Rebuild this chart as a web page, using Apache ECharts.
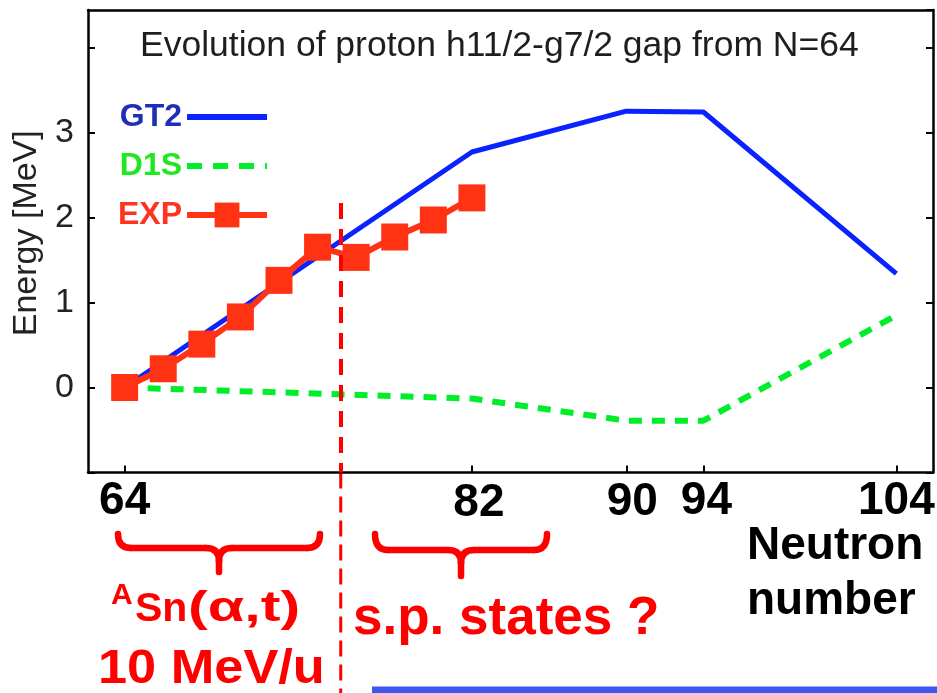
<!DOCTYPE html>
<html><head><meta charset="utf-8">
<script src="https://cdn.jsdelivr.net/npm/echarts@6/dist/echarts.min.js"></script>
<style>html,body{margin:0;padding:0;background:#fff}#c{width:937px;height:693px}</style>
</head><body><div id="c"></div>
<script>
// ---- data ----
const titleText = 'Evolution of proton h11/2-g7/2 gap from N=64';
const xTickValues = [64, 82, 90, 94, 104];
const yLabelValues = [0, 1, 2, 3];
const gt2N = [64, 82, 90, 94, 104];
const gt2E = [0, 2.77, 3.25, 3.24, 1.34];
const d1sN = [64, 82, 90, 94, 104];
const d1sE = [0, -0.13, -0.39, -0.39, 0.85];
const expN = [64, 66, 68, 70, 72, 74, 76, 78, 80, 82];
const expE = [0, 0.22, 0.51, 0.83, 1.26, 1.65, 1.53, 1.77, 1.97, 2.23];
const dividerN = 75.2;
const dividerTopE = 2.17;

const FF = '"Liberation Sans", Arial, Helvetica, sans-serif';
const zip = (a, b) => a.map((v, i) => [v, b[i]]);

const chart = echarts.init(document.getElementById('c'), null, {renderer: 'canvas'});
const axisLine = {show: true, onZero: false, lineStyle: {color: '#000', width: 2.5}};
const xLabelShift = {82: 's82', 90: 's90', 94: 's94'};
const lblBase = {fontSize: 46, fontWeight: 'bold', fontFamily: FF, color: '#000'};

chart.setOption({
  animation: false,
  backgroundColor: '#fff',
  title: {
    text: titleText, left: 140, top: 28, padding: 0,
    textStyle: {fontSize: 35.5, fontWeight: 'normal', fontFamily: FF, color: '#1e1e1e'}
  },
  grid: {left: 88, right: 4, top: 10, bottom: 220.5, containLabel: false, outerBoundsMode: 'none'},
  legend: {
    orient: 'vertical', left: 118, top: 101, align: 'right', padding: 0,
    itemGap: 17, itemWidth: 80, itemHeight: 31, selectedMode: false,
    lineStyle: {width: 6},
    textStyle: {fontSize: 32, fontWeight: 'bold', fontFamily: FF, lineHeight: 32},
    data: [
      {name: 'GT2', textStyle: {color: '#1f2fb5'}, itemStyle: {opacity: 0}},
      {name: 'D1S', textStyle: {color: '#1fe81f'}, itemStyle: {opacity: 0}, lineStyle: {width: 6, type: [15, 11]}},
      {name: 'EXP', textStyle: {color: '#ff3322'}}
    ]
  },
  xAxis: [{
    type: 'value', min: 62.1, max: 105.9, position: 'bottom',
    axisLine: axisLine,
    axisTick: {show: true, inside: true, length: 7, customValues: xTickValues, lineStyle: {color: '#000', width: 2}},
    axisLabel: {
      customValues: xTickValues, margin: 6, ...lblBase,
      formatter: v => xLabelShift[v] ? '{' + xLabelShift[v] + '|' + v + '}' : String(v),
      rich: {
        s82: {...lblBase, padding: [2, 0, 0, 14]},
        s90: {...lblBase, padding: [1, 0, 0, 12]},
        s94: {...lblBase, padding: [0, 0, 0, 6]}
      }
    },
    splitLine: {show: false}
  }, {
    type: 'value', min: 62.1, max: 105.9, position: 'top',
    axisLine: axisLine, axisTick: {show: false}, axisLabel: {show: false}, splitLine: {show: false}
  }],
  yAxis: [{
    type: 'value', min: -1, max: 4.44, interval: 1, position: 'left',
    axisLine: axisLine,
    axisTick: {show: true, inside: true, length: 7, lineStyle: {color: '#000', width: 2}},
    axisLabel: {margin: 14, fontSize: 34, fontFamily: FF, color: '#222',
      formatter: v => yLabelValues.includes(v) ? String(v) : '', showMaxLabel: false},
    splitLine: {show: false},
    name: 'Energy [MeV]', nameLocation: 'middle', nameGap: 44,
    nameTextStyle: {fontSize: 34, fontFamily: FF, color: '#222', padding: [0, 0, 0, 16]}
  }, {
    type: 'value', min: -1, max: 4.44, interval: 1, position: 'right',
    axisLine: axisLine,
    axisTick: {show: true, inside: true, length: 7, lineStyle: {color: '#000', width: 2}},
    axisLabel: {show: false}, splitLine: {show: false}
  }],
  series: [
    {
      name: 'GT2', type: 'line', data: zip(gt2N, gt2E), symbol: 'none', showSymbol: false,
      lineStyle: {color: '#0a22ff', width: 5}, itemStyle: {color: '#0a22ff'}, z: 2, silent: true
    },
    {
      name: 'D1S', type: 'line', data: zip(d1sN, d1sE), symbol: 'none', showSymbol: false,
      lineStyle: {color: '#00ee2a', width: 6, type: [13, 10]}, itemStyle: {color: '#00ee2a'}, z: 2, silent: true
    },
    {
      name: 'EXP', type: 'line', data: zip(expN, expE), symbol: 'rect', symbolSize: 27,
      lineStyle: {color: '#ff3314', width: 6}, itemStyle: {color: '#ff3314'}, z: 3, silent: true,
      markLine: {
        silent: true, symbol: 'none', label: {show: false},
        lineStyle: {color: '#ff0000', width: 4, type: [16, 10]},
        data: [[{coord: [dividerN, dividerTopE]}, {coord: [dividerN, -1]}]]
      }
    }
  ]
});

// annotations below the plot
const base = chart.convertToPixel({xAxisIndex: 0, yAxisIndex: 0}, [dividerN, -1]);
const RED = '#ff0000';
function brace(x1, x2, top, h, tip, r) {
  const c = (x1 + x2) / 2;
  const st = {stroke: RED, lineWidth: 6.5, fill: null, lineCap: 'round'};
  const mk = (type, shape) => ({type, shape, style: st, silent: true});
  return [
    mk('bezierCurve', {x1: x1, y1: top, x2: x1 + r, y2: h, cpx1: x1, cpy1: h}),
    mk('line', {x1: x1 + r, y1: h, x2: c - r, y2: h}),
    mk('bezierCurve', {x1: c - r, y1: h, x2: c, y2: h + r, cpx1: c, cpy1: h}),
    mk('line', {x1: c, y1: h + r, x2: c, y2: tip}),
    mk('bezierCurve', {x1: c, y1: h + r, x2: c + r, y2: h, cpx1: c, cpy1: h}),
    mk('line', {x1: c + r, y1: h, x2: x2 - r, y2: h}),
    mk('bezierCurve', {x1: x2 - r, y1: h, x2: x2, y2: top, cpx1: x2, cpy1: h})
  ];
}
const txt = (text, x, y, size, color, sx) => ({
  type: 'text', x, y, silent: true, scaleX: sx || 1,
  style: {text, fontSize: size, fontWeight: 'bold', fontFamily: FF, fill: color, align: 'left', verticalAlign: 'middle'}
});
chart.setOption({
  graphic: [
    {type: 'line', silent: true, shape: {x1: base[0], y1: base[1], x2: base[0], y2: 693},
      style: {stroke: RED, lineWidth: 3, lineDash: [16, 8]}},
    ...brace(118, 320, 534, 548, 572, 13),
    ...brace(375, 547, 534, 550, 576, 13),
    txt('A', 111, 596, 30, RED),
    txt('Sn', 135, 609.5, 41, RED),
    txt('(α,t)', 188, 609.5, 43, RED, 1.38),
    txt('10 MeV/u', 98, 670, 48, RED, 1.09),
    txt('s.p. states ?', 353, 619, 53, RED),
    {type: 'text', x: 747, y: 518.5, silent: true,
      style: {text: 'Neutron\nnumber', fontSize: 46, lineHeight: 55, fontWeight: 'bold', fontFamily: FF,
        fill: '#000', align: 'left', verticalAlign: 'top'}},
    {type: 'rect', silent: true, shape: {x: 372, y: 686.5, width: 565, height: 7}, style: {fill: '#3f55f0'}}
  ]
});
</script>
</body></html>
